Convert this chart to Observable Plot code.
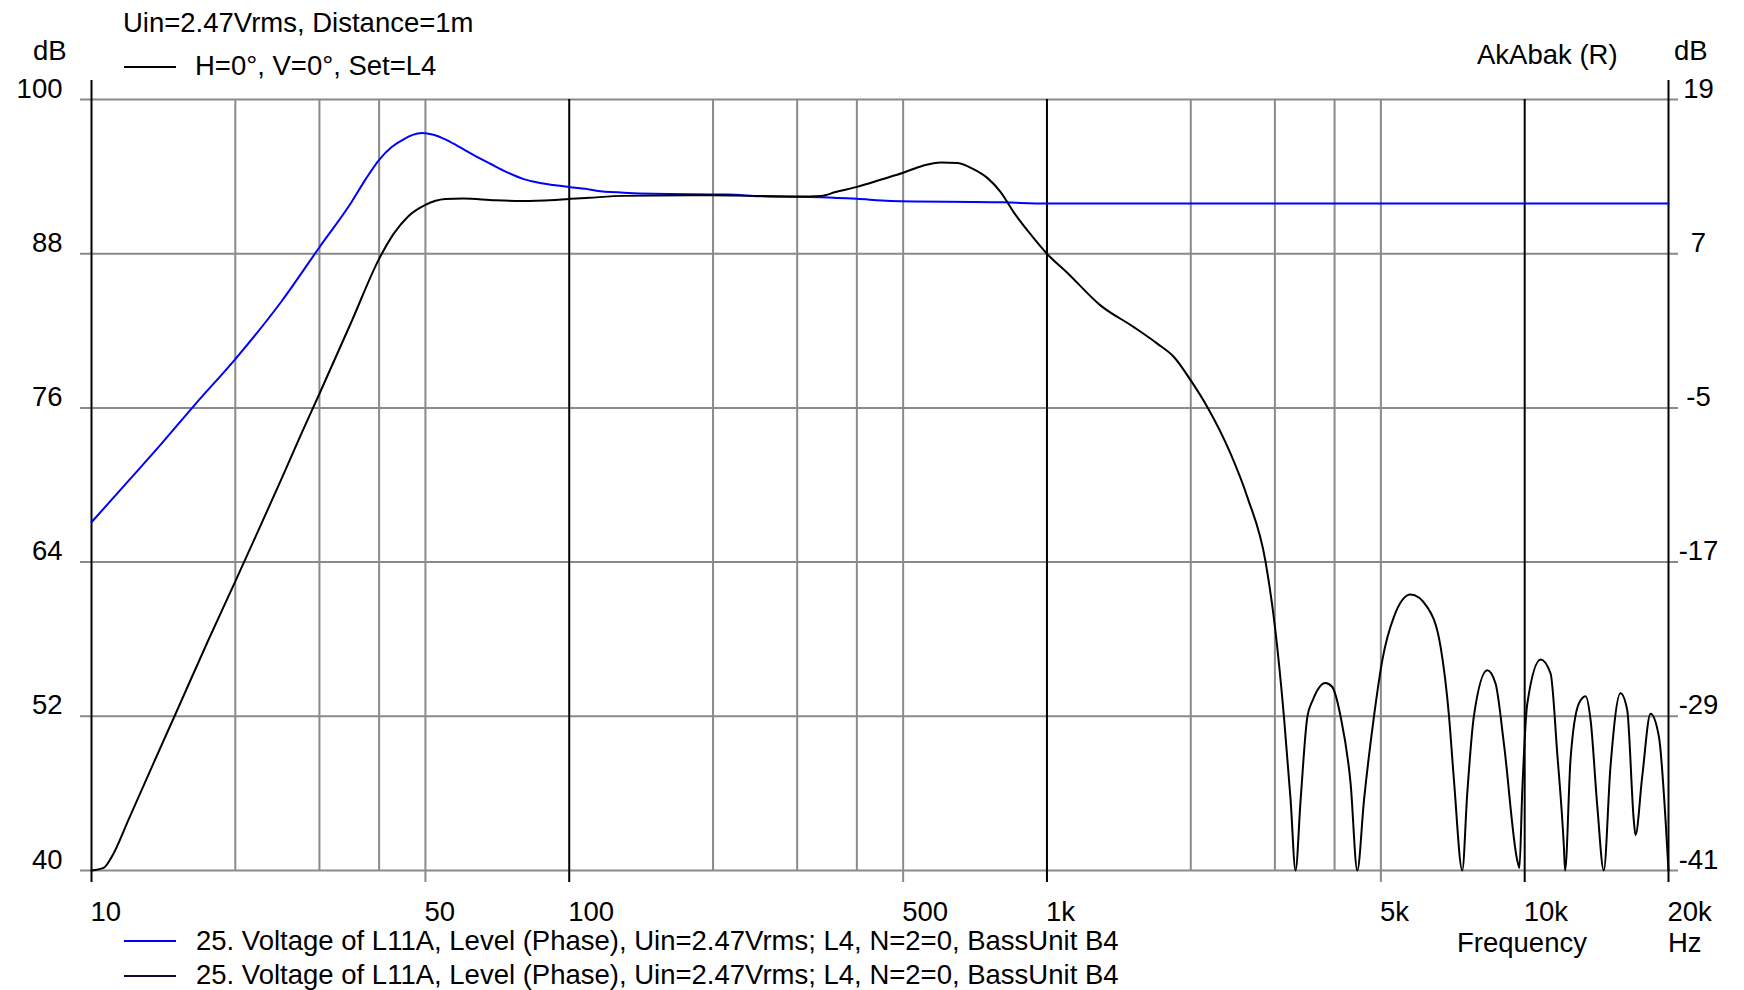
<!DOCTYPE html>
<html>
<head>
<meta charset="utf-8">
<script src="https://cdn.jsdelivr.net/npm/d3@7"></script>
<script src="https://cdn.jsdelivr.net/npm/@observablehq/plot@0.6"></script>
<style>
  html, body { margin: 0; padding: 0; background: #fff; }
  #wrap { position: relative; width: 1744px; height: 990px; overflow: hidden; background: #fff; }
  #wrap svg { position: absolute; left: 0; top: 0; }
</style>
</head>
<body>
<div id="wrap"></div>
<script>
// ---- Data ----
const freqTicks = [10, 50, 100, 500, 1000, 5000, 10000, 20000];
const freqTickLabels = ["10", "50", "100", "500", "1k", "5k", "10k", "20k"];
const dbTicks = [100, 88, 76, 64, 52, 40];
const dbLabelsLeft = ["100", "88", "76", "64", "52", "40"];
const dbLabelsRight = ["19", "7", "-5", "-17", "-29", "-41"];
const gridMinor = [20, 30, 40, 200, 300, 400, 2000, 3000, 4000];
const gridLabeledGray = [50, 500, 5000];
const gridMajor = [100, 1000, 10000];
const gridEdges = [10, 20000];

const blueFreq = [10, 12, 14, 16.5, 20, 25, 30, 35, 37.5, 40, 42.5, 45, 47, 49.2, 52, 55, 58.3, 63, 68.4, 74, 80.3, 87, 94.4, 102, 108, 114, 130, 150, 215, 250, 337, 400, 470, 811, 1000, 20000];
const blueDb   = [67.1, 70.4, 73.2, 76.3, 79.8, 84.3, 88.5, 92.0, 93.8, 95.3, 96.3, 96.9, 97.25, 97.4, 97.25, 96.9, 96.4, 95.7, 95.0, 94.35, 93.8, 93.5, 93.3, 93.15, 93.05, 92.9, 92.75, 92.66, 92.6, 92.48, 92.4, 92.27, 92.1, 92.0, 91.9, 91.9];

const blackFreq = [10, 10.6, 11, 12, 13.5, 15, 17.5, 20, 22.5, 25, 27.5, 30, 35, 40, 43, 46, 50, 55, 60, 70, 80, 95, 110, 130, 200, 300, 337,
  361, 400, 452, 500, 550, 600, 650, 700, 750, 800, 853, 920, 1000, 1104, 1294, 1520, 1702, 1844, 2000, 2166, 2423, 2627, 2869, 3000, 3134, 3236, 3314,
  3396, 3508, 3600, 3828, 3953, 4119, 4321, 4463, 4610, 4835, 5035, 5324, 5770, 6252, 6668, 6940, 7112, 7402, 7582, 7827, 8351, 8690, 9045, 9647, 9750,
  9880, 10128, 10798, 11330, 11700, 12080, 12150, 12470, 12986, 13412, 13740, 14190, 14640, 15120, 15870, 16390, 16920, 17060, 17620, 18340, 19100, 19720, 20000];
const blackDb = [40, 40.2, 41.0, 44.1, 48.4, 52.2, 57.8, 62.5, 66.7, 70.5, 74.0, 77.1, 82.7, 87.6, 89.6, 90.9, 91.8, 92.25, 92.3, 92.15, 92.1, 92.2, 92.35, 92.5, 92.55, 92.45, 92.5,
  92.8, 93.2, 93.8, 94.3, 94.85, 95.1, 95.05, 94.6, 93.9, 92.8, 91.2, 89.6, 88.0, 86.5, 83.98, 82.29, 81.0, 79.96, 78.14, 76.07, 72.44, 69.06, 64.0, 59.0, 51.96, 45.5, 40,
  45.5, 51.96, 53.25, 54.6, 54.3, 51.96, 46.78, 40, 45.5, 51.96, 56.37, 59.74, 61.47, 60.5, 57.4, 52.1, 47.0, 40, 46.0, 52, 55.59, 54.55, 49.9, 40.8, 40.2,
  46.0, 53.0, 56.42, 55.33, 49.1, 41.85, 40, 48.6, 53, 53.57, 51.7, 45.0, 40, 48.07, 53.8, 52.5, 43.9, 42.75, 47.3, 52.2, 50.4, 43.9, 40];

const blueSeries = blueFreq.map((f, i) => ({f, db: blueDb[i]}));
const blackSeries = blackFreq.map((f, i) => ({f, db: blackDb[i]}));

// ---- Styles ----
const FONT = "'Liberation Sans', Arial, sans-serif";
const FS = 27.5;
const GRAY = "#8a8a8a";

const chart = Plot.plot({
  width: 1744,
  height: 990,
  marginLeft: 91,
  marginRight: 76,
  marginTop: 99,
  marginBottom: 120,
  style: {fontFamily: FONT, fontSize: FS + "px", background: "transparent", overflow: "visible", color: "#000"},
  x: {type: "log", domain: [10, 20000], axis: null},
  y: {domain: [40, 100], axis: null},
  marks: [
    Plot.ruleY(dbTicks, {stroke: GRAY, strokeWidth: 2, insetLeft: -11, insetRight: -10}),
    Plot.ruleX(gridMinor, {stroke: GRAY, strokeWidth: 2}),
    Plot.ruleX(gridLabeledGray, {stroke: GRAY, strokeWidth: 2, insetBottom: -12}),
    Plot.ruleX(gridMajor, {stroke: "#000", strokeWidth: 2, insetBottom: -12}),
    Plot.ruleX(gridEdges, {stroke: "#000", strokeWidth: 2, insetTop: -19, insetBottom: -12}),
    Plot.line(blueSeries, {x: "f", y: "db", stroke: "#0000ff", strokeWidth: 2, curve: "monotone-x"}),
    Plot.line(blackSeries, {x: "f", y: "db", stroke: "#000", strokeWidth: 2, curve: "monotone-x"}),
    Plot.text(freqTicks, {x: d => d, text: (d, i) => freqTickLabels[i], frameAnchor: "bottom", lineAnchor: "bottom", textAnchor: "start", dy: 50, dx: -1, fontSize: FS, fill: "#000"}),
    Plot.text(dbTicks, {y: d => d, text: (d, i) => dbLabelsLeft[i], frameAnchor: "left", lineAnchor: "bottom", textAnchor: "end", dx: -29, dy: -2, fontSize: FS, fill: "#000"}),
    Plot.text(dbTicks, {y: d => d, text: (d, i) => dbLabelsRight[i], frameAnchor: "right", lineAnchor: "bottom", textAnchor: "middle", dx: 30, dy: -2, fontSize: FS, fill: "#000"})
  ]
});

const wrap = document.getElementById("wrap");
wrap.appendChild(chart);

// ---- Annotations (header, legend, axis titles) ----
const ov = d3.select(wrap).append("svg")
  .attr("width", 1744).attr("height", 990)
  .style("font-family", FONT).style("font-size", FS + "px");

function label(x, baseline, txt, opts = {}) {
  const t = ov.append("text").attr("x", x).attr("y", baseline).attr("fill", "#000").text(txt);
  if (opts.anchor) t.attr("text-anchor", opts.anchor);
  if (opts.ls != null) t.style("letter-spacing", opts.ls + "px");
  return t;
}
function swatch(x1, x2, y, color) {
  ov.append("line").attr("x1", x1).attr("x2", x2).attr("y1", y).attr("y2", y)
    .attr("stroke", color).attr("stroke-width", 2);
}

const headerLines = ["Uin=2.47Vrms, Distance=1m", "H=0°, V=0°, Set=L4"];
const legendLabels = [
  "25. Voltage of L11A, Level (Phase), Uin=2.47Vrms; L4, N=2=0, BassUnit B4",
  "25. Voltage of L11A, Level (Phase), Uin=2.47Vrms; L4, N=2=0, BassUnit B4"
];
const legendColors = ["#0000ff", "#0a0a3c"];

label(123, 32, headerLines[0]);
swatch(124, 176, 67, "#000");
label(195, 75, headerLines[1]);
label(33, 60, "dB");
label(1674, 60, "dB");
label(1477, 64, "AkAbak (R)");
label(1457, 952, "Frequency");
label(1668, 952, "Hz");
swatch(124, 176, 941, legendColors[0]);
label(196, 950, legendLabels[0]);
swatch(124, 176, 976, legendColors[1]);
label(196, 984, legendLabels[1]);
</script>
</body>
</html>
